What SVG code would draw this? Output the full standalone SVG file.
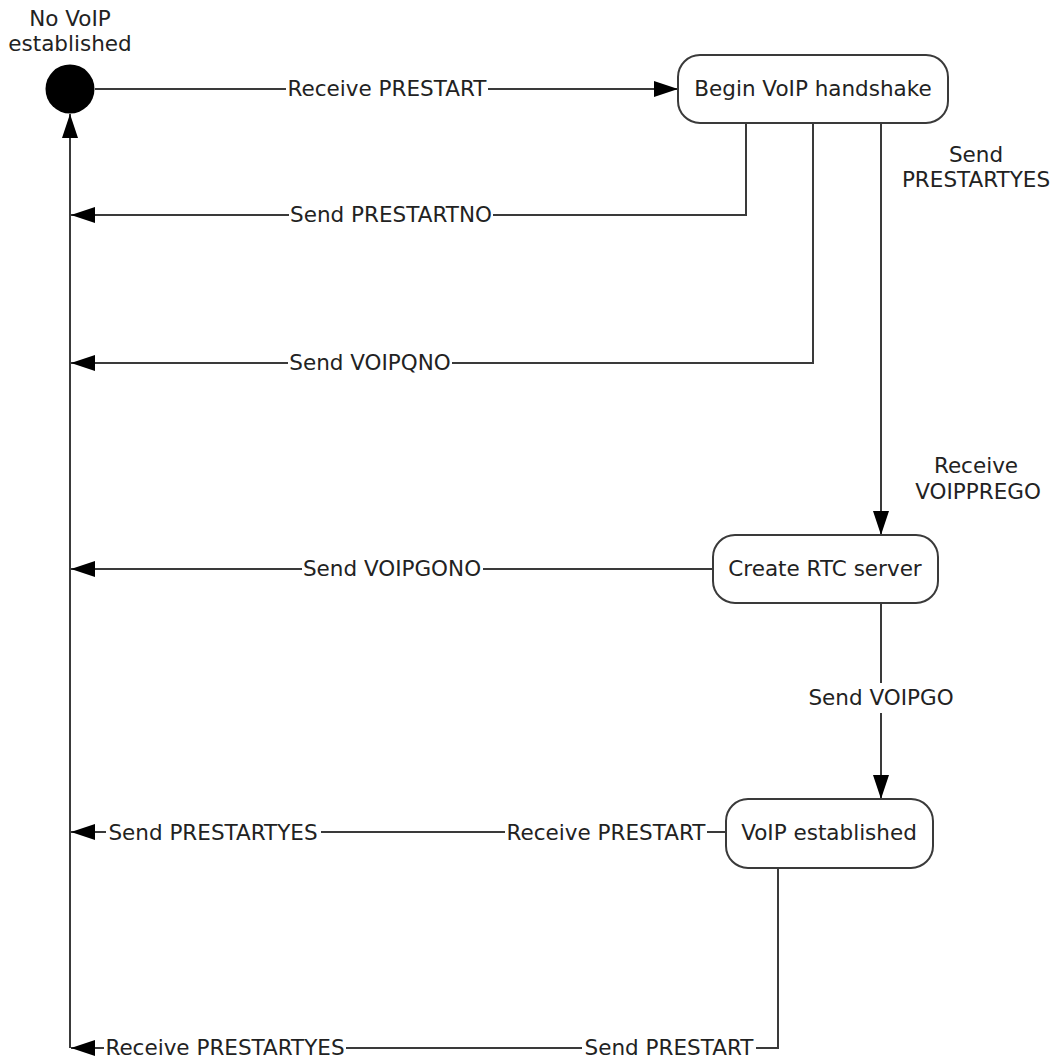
<svg xmlns="http://www.w3.org/2000/svg" width="1055" height="1063" viewBox="0 0 1055 1063">
  <defs>
    <marker id="arrow" markerUnits="userSpaceOnUse" markerWidth="24" markerHeight="16" viewBox="0 0 24 16" refX="24" refY="8" orient="auto">
      <path d="M0,0 L24,8 L0,16 Z" fill="#000"/>
    </marker>
    <style>
      .conn { fill: none; stroke: #3a3a3a; stroke-width: 2; }
      .state { fill: #fff; stroke: #3a3a3a; stroke-width: 2; }
      .t { font-family: "DejaVu Sans", Verdana, sans-serif; font-size: 21.5px; fill: #222; text-anchor: middle; }
      .bg { fill: #fff; }
    </style>
  </defs>
  <rect width="1055" height="1063" fill="#fff"/>

  <g id="connectors">
    <path class="conn" d="M95,89 H678" marker-end="url(#arrow)"/>
    <path class="conn" d="M746,123 V215 H71" marker-end="url(#arrow)"/>
    <path class="conn" d="M813,123 V363 H71" marker-end="url(#arrow)"/>
    <path class="conn" d="M881,123 V535" marker-end="url(#arrow)"/>
    <path class="conn" d="M713,569 H71" marker-end="url(#arrow)"/>
    <path class="conn" d="M881,603 V799" marker-end="url(#arrow)"/>
    <path class="conn" d="M726,832 H71" marker-end="url(#arrow)"/>
    <path class="conn" d="M778,868 V1048 H71" marker-end="url(#arrow)"/>
    <path class="conn" d="M70,1048 V114" marker-end="url(#arrow)"/>

    <rect class="bg" x="286" y="77" width="202" height="24"/>
    <text class="t" x="387" y="96">Receive PRESTART</text>

    <rect class="bg" x="289" y="203" width="204" height="24"/>
    <text class="t" x="391" y="222">Send PRESTARTNO</text>

    <rect class="bg" x="288" y="351" width="164" height="24"/>
    <text class="t" x="370" y="370">Send VOIPQNO</text>

    <text class="t" x="976" y="162">Send</text>
    <text class="t" x="976" y="187">PRESTARTYES</text>

    <text class="t" x="976" y="473">Receive</text>
    <text class="t" x="978" y="499">VOIPPREGO</text>

    <rect class="bg" x="302" y="557" width="181" height="24"/>
    <text class="t" x="392" y="576">Send VOIPGONO</text>

    <rect class="bg" x="806" y="683" width="150" height="30"/>
    <text class="t" x="881" y="705">Send VOIPGO</text>

    <rect class="bg" x="106" y="820" width="215" height="24"/>
    <text class="t" x="213" y="840">Send PRESTARTYES</text>

    <rect class="bg" x="505" y="820" width="202" height="24"/>
    <text class="t" x="606" y="840">Receive PRESTART</text>

    <rect class="bg" x="104" y="1036" width="242" height="24"/>
    <text class="t" x="225" y="1055">Receive PRESTARTYES</text>

    <rect class="bg" x="582" y="1036" width="174" height="24"/>
    <text class="t" x="669" y="1055">Send PRESTART</text>
  </g>

  <g id="no-voip">
    <circle cx="70" cy="89" r="24.5" fill="#000"/>
    <text class="t" x="70" y="26">No VoIP</text>
    <text class="t" x="70" y="51">established</text>
  </g>

  <g id="begin-handshake">
    <rect class="state" x="678" y="55" width="270" height="68" rx="22" ry="22"/>
    <text class="t" x="813" y="96">Begin VoIP handshake</text>
  </g>

  <g id="create-rtc">
    <rect class="state" x="713" y="535" width="225" height="68" rx="22" ry="22"/>
    <text class="t" x="825" y="576">Create RTC server</text>
  </g>

  <g id="voip-established">
    <rect class="state" x="726" y="799" width="207" height="69" rx="22" ry="22"/>
    <text class="t" x="829" y="840">VoIP established</text>
  </g>
</svg>
